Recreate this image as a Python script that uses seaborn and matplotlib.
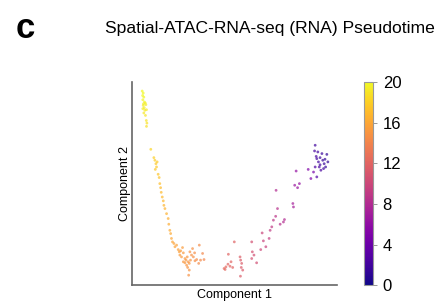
import numpy as np
import pandas as pd
import matplotlib
matplotlib.use("Agg")
import matplotlib.pyplot as plt
import seaborn as sns

# component coordinates (axes span 0-100) and pseudotime
comp1_top = [4.9, 5.4, 5.1, 5.7, 5.2, 6.0, 5.5, 6.4, 5.4, 6.7, 5.9, 5.2, 6.2, 7.0, 5.7, 6.5, 6.9, 7.2, 7.0]
comp2_top = [95.6, 94.6, 93.4, 92.6, 91.3, 90.2, 89.3, 89.7, 88.5, 88.9, 87.4, 86.9, 86.1, 86.4, 84.8, 83.6, 81.1, 79.8, 78.2]
time_top = [20, 20, 20, 19.8, 19.8, 19.7, 19.6, 19.6, 19.5, 19.5, 19.4, 19.4, 19.3, 19.3, 19.2, 19.1, 19.0, 18.9, 18.8]

comp1_desc = [9.1, 10.6, 11.1, 11.6, 11.9, 11.3, 12.2, 12.7, 13.2, 13.5, 13.9, 14.2, 14.7, 15.2, 15.5, 16.0,
              16.8, 17.6, 17.9, 18.4, 18.8, 19.2, 19.7, 20.4, 20.9, 21.7, 22.5, 23.0, 23.3, 24.1, 25.0, 25.8,
              26.3, 26.9, 27.4, 27.9, 28.5, 26.6, 25.8, 25.0, 27.1, 27.9, 27.6, 29.0, 28.2, 29.9, 30.7, 31.5,
              32.8, 33.4, 34.4, 35.1, 32.5, 30.5, 29.5, 23.7, 24.6]
comp2_desc = [66.9, 62.8, 61.5, 59.8, 58.2, 57.0, 60.7, 54.6, 53.0, 50.0, 48.0, 45.7, 43.4, 41.5, 39.3, 37.7,
              35.2, 32.8, 30.0, 27.0, 25.4, 23.0, 21.3, 20.5, 18.9, 19.7, 17.5, 16.4, 14.8, 13.9, 15.9, 13.1,
              12.3, 13.9, 11.5, 10.7, 12.3, 9.8, 11.0, 11.5, 8.7, 7.4, 4.9, 14.8, 16.4, 13.9, 12.0, 12.6,
              19.7, 12.3, 15.6, 12.6, 10.7, 15.9, 18.0, 16.9, 18.5]
time_desc = [18.3, 18.0, 17.9, 17.8, 17.7, 17.7, 17.8, 17.5, 17.4, 17.2, 17.1, 17.0, 16.9, 16.8, 16.7, 16.6,
             16.5, 16.4, 16.3, 16.2, 16.1, 16.0, 15.9, 15.8, 15.7, 15.7, 15.6, 15.5, 15.4, 15.3, 15.3, 15.2,
             15.1, 15.1, 15.0, 15.0, 14.9, 15.0, 15.1, 15.1, 14.9, 14.9, 14.8, 14.8, 14.9, 14.7, 14.6, 14.5,
             14.4, 14.3, 14.2, 14.1, 14.4, 14.6, 14.7, 15.5, 15.4]

comp1_rise = [47.0, 49.9, 44.9, 45.8, 46.8, 47.8, 48.3, 49.1, 45.4, 52.7, 53.0, 53.5, 53.3, 54.0, 52.9, 58.4,
              58.7, 58.4, 59.5, 60.8, 62.8, 63.5, 64.1, 65.3, 66.9, 67.4, 68.2, 69.0, 70.1, 70.3, 71.0, 72.3,
              73.9, 74.4, 78.5, 78.8, 79.4, 80.1, 80.8, 81.7, 86.0, 87.3, 88.6]
comp2_rise = [15.2, 21.3, 8.2, 9.0, 10.3, 9.3, 11.5, 8.7, 7.7, 13.9, 12.3, 10.7, 8.7, 7.4, 4.4, 21.3,
              16.4, 13.1, 14.8, 11.0, 17.5, 25.7, 21.8, 18.9, 23.0, 27.0, 28.7, 32.0, 33.9, 46.7, 37.7, 30.0,
              31.1, 32.3, 40.2, 38.5, 49.2, 56.2, 48.0, 50.0, 57.0, 52.5, 55.7]
time_rise = [12.0, 11.8, 12.3, 12.2, 12.1, 12.0, 12.0, 11.9, 12.2, 11.5, 11.4, 11.4, 11.4, 11.3, 11.4, 10.6,
             10.6, 10.7, 10.5, 10.4, 10.0, 9.8, 9.7, 9.6, 9.3, 9.1, 9.0, 8.8, 8.6, 8.0, 8.4, 8.3,
             8.1, 8.0, 7.2, 7.2, 6.6, 6.2, 6.5, 6.3, 5.2, 5.0, 4.6]

comp1_end = [89.4, 89.1, 89.9, 90.2, 91.0, 91.8, 92.7, 93.1, 93.8, 94.5, 95.1, 95.6, 91.4, 92.2, 93.5, 90.2,
             91.8, 89.4, 90.7, 94.2]
comp2_end = [68.9, 66.1, 63.4, 62.3, 60.7, 62.8, 64.8, 61.5, 59.8, 58.2, 64.4, 60.7, 58.2, 56.6, 57.4, 53.3,
             59.3, 58.2, 65.6, 62.0]
time_end = [2.0, 2.3, 2.2, 2.1, 2.0, 1.8, 1.6, 1.6, 1.5, 1.4, 1.2, 1.2, 2.2, 2.3, 2.0, 2.8,
            2.0, 2.5, 2.0, 1.4]

df = pd.DataFrame({
    "c1": comp1_top + comp1_desc + comp1_rise + comp1_end,
    "c2": comp2_top + comp2_desc + comp2_rise + comp2_end,
    "t": time_top + time_desc + time_rise + time_end,
})

plt.rcParams["font.family"] = ["Liberation Sans", "DejaVu Sans"]
fig = plt.figure(figsize=(4.45, 3.03), dpi=100)
ax = fig.add_axes([0.297, 0.059, 0.46, 0.67])

sns.scatterplot(data=df, x="c1", y="c2", hue="t", palette="plasma", hue_norm=(0, 20),
                s=4, alpha=0.7, linewidth=0, legend=False, ax=ax)
ax.set_xlim(0, 100)
ax.set_ylim(0, 100)
ax.set_xticks([])
ax.set_yticks([])
for s in ["top", "right"]:
    ax.spines[s].set_visible(False)
for s in ["left", "bottom"]:
    ax.spines[s].set_color("#666666")
    ax.spines[s].set_linewidth(1.2)
ax.set_xlabel("Component 1", fontsize=9, labelpad=3)
ax.set_ylabel("Component 2", fontsize=9, labelpad=1)

cax = fig.add_axes([0.818, 0.059, 0.02, 0.67])
sm = plt.cm.ScalarMappable(cmap="plasma", norm=plt.Normalize(0, 20))
cb = fig.colorbar(sm, cax=cax, ticks=[0, 4, 8, 12, 16, 20])
cb.outline.set_edgecolor("#999999")
cb.outline.set_linewidth(0.8)
cax.tick_params(labelsize=12, length=3, width=0.6, color="#888888", pad=4)

fig.text(0.056, 0.905, "c", fontsize=25, fontweight="bold", ha="center", va="center")
fig.text(0.607, 0.905, "Spatial-ATAC-RNA-seq (RNA) Pseudotime", fontsize=12.6, ha="center", va="center")

fig.savefig("out.png", dpi=100)
